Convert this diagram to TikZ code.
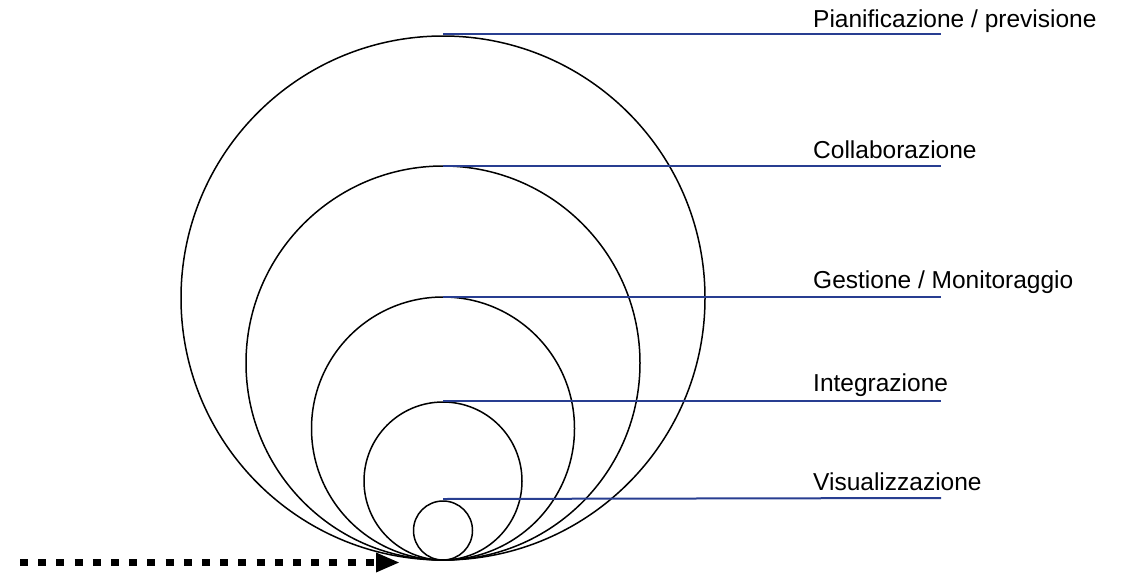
\documentclass[tikz,border=0pt]{standalone}
\usepackage{fontspec}
\setmainfont{Liberation Sans}
\usetikzlibrary{arrows.meta}
\definecolor{lineblue}{RGB}{40,62,145}
\begin{document}
\begin{tikzpicture}[x=1pt,y=-1pt,
  ring/.style={circle,draw=black,line width=1.5pt,minimum size=#1,inner sep=0pt,outer sep=0pt},
  levelline/.style={draw=lineblue,line width=2pt},
  lbl/.style={anchor=base west,inner sep=0pt,font=\fontsize{24.5}{28}\selectfont}]
\useasboundingbox (0,0) rectangle (1130,579);
% circles, tangent at bottom (443,560)
\node[ring=524pt] (c1) at (443,298) {};
\node[ring=394pt] (c2) at (443,363) {};
\node[ring=263pt] (c3) at (443,428.5) {};
\node[ring=158pt] (c4) at (443,481) {};
\node[ring=59pt]  (c5) at (443,530.5) {};
% line end points
\coordinate (e1) at (941,34);
\coordinate (e2) at (941,166);
\coordinate (e3) at (941,297);
\coordinate (e4) at (941,401);
\coordinate (e5) at (941,498);
\draw[levelline] ([yshift=2pt]c1.north) -- (e1);
\draw[levelline] (c2.north) -- (e2);
\draw[levelline] (c3.north) -- (e3);
\draw[levelline] ([yshift=1pt]c4.north) -- (e4);
\draw[levelline] ([yshift=2pt]c5.north) -- (e5);
% labels
\node[lbl] (t1) at (813,27) {Pianificazione / previsione};
\node[lbl] (t2) at (813,158.5) {Collaborazione};
\node[lbl] (t3) at (813,288.5) {Gestione / Monitoraggio};
\node[lbl] (t4) at (813,391) {Integrazione};
\node[lbl] (t5) at (813,490) {Visualizzazione};
% dotted arrow
\coordinate (as) at (20,562.5);
\coordinate (ae) at (400,562.5);
\draw[line width=7.5pt,dash pattern=on 8pt off 10.2pt,
  -{Triangle[length=24pt,width=18pt]}] (as) -- (ae);
\end{tikzpicture}
\end{document}
